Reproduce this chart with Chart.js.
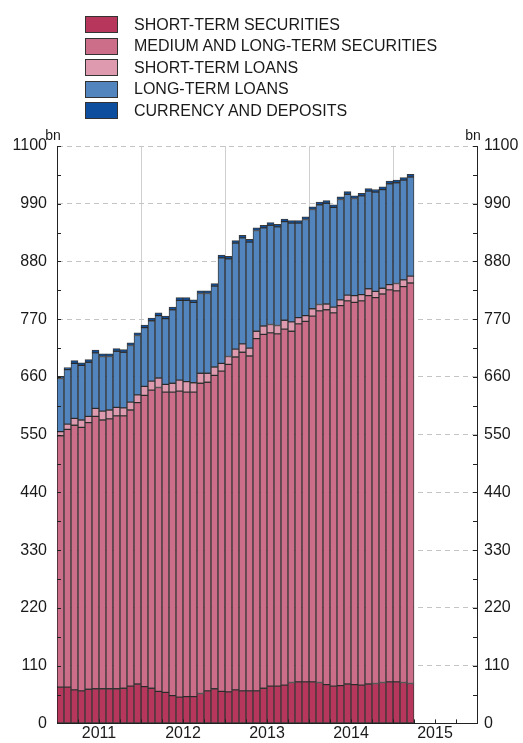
<!DOCTYPE html>
<html>
<head>
<meta charset="utf-8">
<script src="https://cdn.jsdelivr.net/npm/chart.js@4"></script>
<style>
  body { margin: 0; background: #fff; }
  #wrap { position: relative; width: 523px; height: 743px; }
  #legend { position: absolute; left: 85px; top: 14px; font: 16px "Liberation Sans", Arial, sans-serif; color: #1a1a1a; }
  .item { display: flex; align-items: center; height: 21.5px; white-space: nowrap; }
  .box { width: 31px; height: 15px; border: 1px solid #333; margin-right: 16px; }
</style>
</head>
<body>
<div id="wrap">
  <canvas id="chart" width="523" height="743"></canvas>
  <div id="legend"></div>
</div>
<script>
// Categorie: mesi da gen 2011 a dic 2015
const years = [2011, 2012, 2013, 2014, 2015];
const months = [];
years.forEach(y => { for (let m = 1; m <= 12; m++) months.push(y + '-' + String(m).padStart(2, '0')); });

const unitLabel = 'bn';
const yMax = 1100;

// Serie (mld), gen 2011 - mar 2015
const shortTermSecurities = [69, 69, 64, 62, 65, 66, 66, 66, 66, 67, 71, 75, 70, 67, 61, 59, 53, 50, 51, 51, 57, 62, 66, 61, 60, 64, 62, 62, 62, 67, 71, 71, 73, 78, 79, 79, 79, 78, 74, 71, 72, 75, 74, 73, 75, 76, 78, 79, 79, 78, 76];
const mltSecurities = [479, 491, 504, 502, 508, 519, 512, 514, 520, 519, 526, 536, 555, 568, 579, 572, 578, 583, 580, 580, 591, 588, 597, 610, 624, 634, 645, 638, 671, 674, 673, 671, 678, 669, 682, 687, 697, 708, 714, 711, 724, 730, 728, 732, 740, 735, 740, 747, 745, 754, 763];
const shortTermLoans = [8, 10, 13, 14, 12, 15, 17, 17, 16, 15, 15, 15, 17, 17, 18, 15, 17, 21, 20, 18, 19, 17, 16, 15, 15, 15, 16, 15, 14, 16, 16, 16, 17, 18, 12, 11, 14, 12, 11, 11, 11, 11, 13, 12, 13, 12, 11, 10, 14, 13, 13];
const longTermLoans = [101, 104, 105, 104, 103, 106, 104, 102, 107, 106, 108, 113, 112, 115, 119, 125, 140, 152, 155, 153, 152, 152, 154, 201, 186, 202, 202, 202, 192, 187, 189, 188, 188, 188, 180, 183, 189, 190, 192, 190, 191, 192, 185, 188, 186, 189, 188, 192, 192, 190, 189];
const currencyDeposits = [4, 4, 5, 5, 5, 5, 5, 5, 5, 5, 5, 5, 5, 5, 5, 5, 5, 5, 5, 5, 5, 5, 5, 5, 5, 5, 5, 5, 5, 5, 5, 5, 5, 5, 5, 5, 5, 5, 5, 5, 5, 5, 5, 5, 5, 5, 5, 5, 5, 5, 5];

const seriesNames = ['SHORT-TERM SECURITIES', 'MEDIUM AND LONG-TERM SECURITIES', 'SHORT-TERM LOANS', 'LONG-TERM LOANS', 'CURRENCY AND DEPOSITS'];
const seriesColors = ['#b6365c', '#cc6e8a', '#de9bb0', '#5284be', '#0d4f9e'];
const seriesData = [shortTermSecurities, mltSecurities, shortTermLoans, longTermLoans, currencyDeposits];

const font = { family: '"Liberation Sans", Arial, sans-serif', size: 16 };

// Tacche interne + etichette "bn"
const innerTicks = {
  id: 'innerTicks',
  afterDraw(chart) {
    const { ctx, chartArea } = chart;
    const { y, x2 } = chart.scales;
    ctx.save();
    ctx.strokeStyle = '#222';
    ctx.lineWidth = 1;
    ctx.beginPath();
    y.ticks.forEach(t => {
      const py = Math.round(y.getPixelForValue(t.value)) + 0.5;
      ctx.moveTo(chartArea.left, py); ctx.lineTo(chartArea.left + 4, py);
      ctx.moveTo(chartArea.right, py); ctx.lineTo(chartArea.right - 4, py);
    });
    for (let m = 3; m < months.length; m += 3) {
      const px = Math.round(x2.getPixelForValue(m)) + 0.5;
      ctx.moveTo(px, chartArea.bottom); ctx.lineTo(px, chartArea.bottom - 4);
    }
    ctx.stroke();
    ctx.fillStyle = '#1a1a1a';
    ctx.font = '14px "Liberation Sans", Arial, sans-serif';
    ctx.textAlign = 'center';
    ctx.textBaseline = 'bottom';
    ctx.fillText(unitLabel, chartArea.left - 4, chartArea.top - 3);
    ctx.fillText(unitLabel, chartArea.right - 4, chartArea.top - 3);
    ctx.restore();
  }
};

const chart = new Chart(document.getElementById('chart'), {
  type: 'bar',
  data: {
    labels: months,
    datasets: seriesData.map((d, i) => ({
      label: seriesNames[i],
      data: d,
      backgroundColor: seriesColors[i],
      borderColor: 'rgba(25,25,25,0.85)',
      borderWidth: 1,
      borderSkipped: false,
      barPercentage: 1,
      categoryPercentage: 1,
    })),
  },
  options: {
    responsive: false,
    animation: false,
    layout: { padding: { top: 146, left: 0, right: 0, bottom: 0 } },
    plugins: { legend: { display: false }, tooltip: { enabled: false } },
    scales: {
      x: {
        stacked: true,
        ticks: { display: false, autoSkip: false },
        grid: {
          offset: true,
          drawTicks: false,
          color: c => (c.index % 12 === 0 ? '#cfcfcf' : 'rgba(0,0,0,0)'),
        },
        border: { display: true, color: '#222', width: 1 },
        afterFit: s => { s.height = 0; },
      },
      x2: {
        type: 'linear',
        position: 'bottom',
        offset: false,
        min: 0,
        max: months.length,
        afterBuildTicks: s => { s.ticks = years.map((y, i) => ({ value: i * 12 + 6 })); },
        ticks: { font, color: '#1a1a1a', padding: 1, callback: v => years[(v - 6) / 12] },
        grid: { display: false, drawTicks: false, offset: false },
        border: { display: false },
        afterFit: s => { s.height = 16; },
      },
      y: {
        stacked: true,
        position: 'left',
        min: 0,
        max: yMax,
        ticks: { stepSize: 55, font, color: '#1a1a1a', padding: 10, callback: v => (v % 110 === 0 ? v : '') },
        grid: {
          drawTicks: false,
          color: c => (c.tick && c.tick.value % 110 === 0 && c.tick.value > 0 ? '#c4c4c4' : 'rgba(0,0,0,0)'),
        },
        border: { display: true, color: '#222', width: 1, dash: [5, 4] },
        afterFit: s => { s.width = 57; },
      },
      y2: {
        position: 'right',
        min: 0,
        max: yMax,
        ticks: { stepSize: 55, font, color: '#1a1a1a', padding: 7, callback: v => (v % 110 === 0 ? v : '') },
        grid: { display: false, drawTicks: false },
        border: { display: true, color: '#222', width: 1 },
        afterFit: s => { s.width = 46; },
      },
    },
  },
  plugins: [innerTicks],
});

// Legenda HTML costruita dai dataset
document.getElementById('legend').innerHTML = chart.data.datasets.map(ds => `
  <div class="item"><span class="box" style="background:${ds.backgroundColor}"></span>${ds.label}</div>
`).join('');
</script>
</body>
</html>
